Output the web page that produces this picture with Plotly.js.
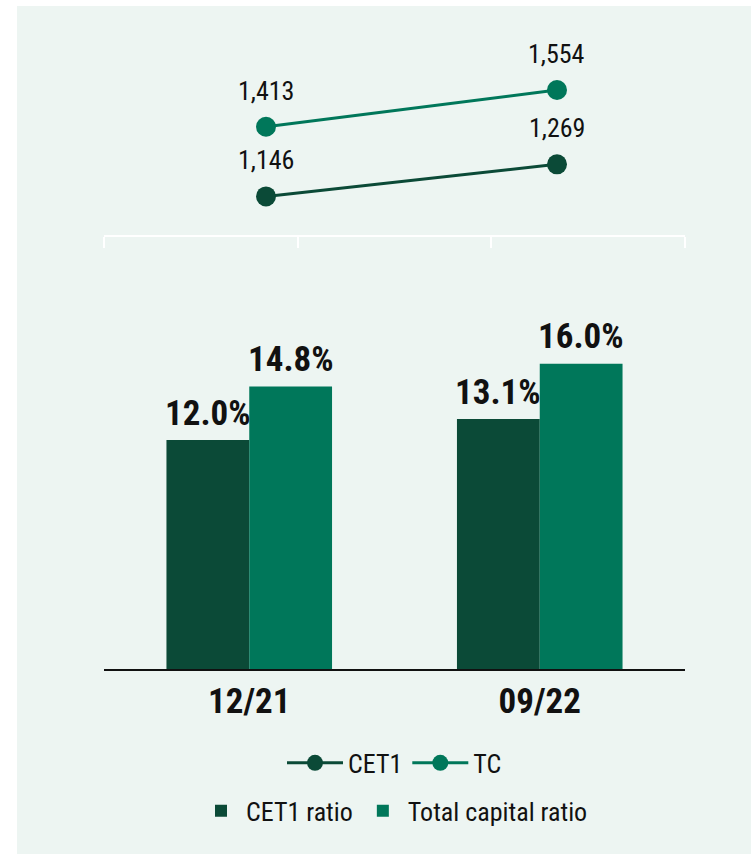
<!DOCTYPE html>
<html><head><meta charset="utf-8">
<script src="https://cdn.plot.ly/plotly-3.0.1.min.js"></script>
<style>
html,body{margin:0;padding:0;background:#ffffff;width:751px;height:854px;overflow:hidden}
#chart{position:absolute;left:17px;top:6px;width:734px;height:848px}
</style>
</head><body><div id="chart"></div>
<script>
// ---- data ----
const periods = ['12/21', '09/22'];
const cet1Amount = [1146, 1269];
const tcAmount = [1413, 1554];
const cet1Ratio = [12.0, 13.1];
const tcRatio = [14.8, 16.0];
const bracketTicks = [0, 1, 2, 3];

// ---- style ----
const FONT = "'Liberation Sans Narrow', 'Arial Narrow', 'Roboto Condensed', 'DejaVu Sans Condensed', 'Liberation Sans', Arial, sans-serif";
const DARK = '#0b4a37';
const MID = '#00775a';
const BG = '#edf5f2';
const TXT = '#111111';

const fmtAmt = v => v.toLocaleString('en-US');
const fmtPct = v => v.toFixed(1) + '%';

const traces = [
  {
    type: 'bar', name: 'CET1 ratio', x: periods, y: cet1Ratio,
    xaxis: 'x', yaxis: 'y', legend: 'legend2',
    marker: {color: DARK, line: {width: 0}}, hoverinfo: 'skip'
  },
  {
    type: 'bar', name: 'Total capital ratio', x: periods, y: tcRatio,
    xaxis: 'x', yaxis: 'y', legend: 'legend2',
    marker: {color: MID, line: {width: 0}}, hoverinfo: 'skip'
  },
  {
    type: 'scatter', mode: 'lines+markers', name: 'CET1', x: periods, y: cet1Amount,
    xaxis: 'x2', yaxis: 'y2', legend: 'legend',
    line: {color: DARK, width: 3}, marker: {color: DARK, size: 20},
    cliponaxis: false, hoverinfo: 'skip'
  },
  {
    type: 'scatter', mode: 'lines+markers', name: 'TC', x: periods, y: tcAmount,
    xaxis: 'x2', yaxis: 'y2', legend: 'legend',
    line: {color: MID, width: 3}, marker: {color: MID, size: 20},
    cliponaxis: false, hoverinfo: 'skip'
  },
  {
    type: 'scatter', mode: 'markers', x: [], y: [], xaxis: 'x3', yaxis: 'y2',
    showlegend: false, hoverinfo: 'skip'
  }
];

const annotations = [];
periods.forEach((p, i) => {
  annotations.push({xref: 'x2', yref: 'y2', x: p, y: cet1Amount[i], text: fmtAmt(cet1Amount[i]),
    showarrow: false, yshift: 36, yanchor: 'middle', font: {family: FONT, size: 26, color: TXT}});
  annotations.push({xref: 'x2', yref: 'y2', x: p, y: tcAmount[i], text: fmtAmt(tcAmount[i]),
    showarrow: false, yshift: 36, yanchor: 'middle', font: {family: FONT, size: 26, color: TXT}});
  annotations.push({xref: 'x', yref: 'y', x: p, y: cet1Ratio[i], text: fmtPct(cet1Ratio[i]),
    showarrow: false, xshift: -41.4, yshift: 27, yanchor: 'middle',
    font: {family: FONT, size: 35, weight: 'bold', color: TXT}});
  annotations.push({xref: 'x', yref: 'y', x: p, y: tcRatio[i], text: fmtPct(tcRatio[i]),
    showarrow: false, xshift: 41.4, yshift: 27, yanchor: 'middle',
    font: {family: FONT, size: 35, weight: 'bold', color: TXT}});
});

const layout = {
  width: 734, height: 848,
  paper_bgcolor: BG, plot_bgcolor: 'rgba(0,0,0,0)',
  margin: {l: 87, r: 66, t: 72, b: 185},
  font: {family: FONT, color: TXT},
  barmode: 'group', bargap: 0.43, bargroupgap: 0,
  xaxis: {
    domain: [0, 1], anchor: 'y', type: 'category', categoryarray: periods,
    showline: true, linecolor: '#111111', linewidth: 2, ticks: '', showgrid: false,
    tickfont: {family: FONT, size: 35, weight: 'bold', color: TXT}, fixedrange: true
  },
  yaxis: {domain: [0, 0.6457], anchor: 'x', range: [0, 20], visible: false, fixedrange: true},
  xaxis2: {
    domain: [0, 1], anchor: 'y2', type: 'category', categoryarray: periods,
    range: [-0.5567, 1.4399], visible: false, fixedrange: true
  },
  yaxis2: {domain: [0.7343, 1], anchor: 'x2', range: [998, 1600], visible: false, fixedrange: true},
  xaxis3: {
    overlaying: 'x2', anchor: 'y2', side: 'bottom', range: [0, 3],
    tickmode: 'array', tickvals: bracketTicks, showticklabels: false,
    ticks: 'outside', ticklen: 11, tickwidth: 2, tickcolor: '#ffffff',
    showline: true, linecolor: '#ffffff', linewidth: 2,
    showgrid: false, zeroline: false, fixedrange: true
  },
  legend: {
    orientation: 'h', x: 0.5, xanchor: 'center', y: -0.159, yanchor: 'middle',
    bgcolor: 'rgba(0,0,0,0)', font: {family: FONT, size: 26, color: TXT},
    traceorder: 'normal', itemwidth: 56
  },
  legend2: {
    orientation: 'h', x: 0.5, xanchor: 'center', y: -0.240, yanchor: 'middle',
    bgcolor: 'rgba(0,0,0,0)', font: {family: FONT, size: 26, color: TXT},
    traceorder: 'normal', itemwidth: 40
  },
  annotations: annotations,
  showlegend: true
};

Plotly.newPlot('chart', traces, layout, {displayModeBar: false, staticPlot: true});
</script>
</body></html>
